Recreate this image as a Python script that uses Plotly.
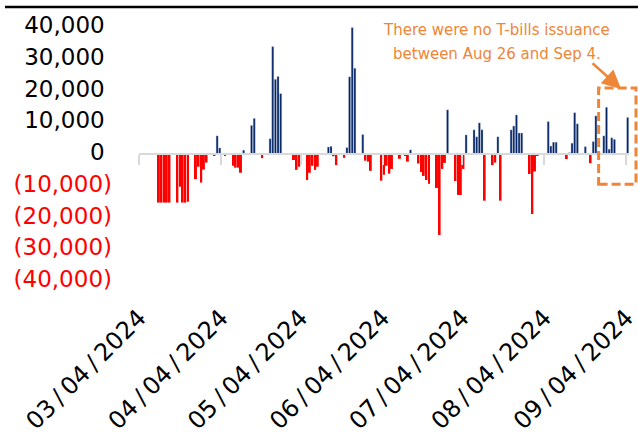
import datetime as dt
import plotly.graph_objects as go

# Daily net T-bill issuance (USD mn), business days Mar-Sep 2024
dates = [
    "2024-03-11", "2024-03-12", "2024-03-13", "2024-03-14", "2024-03-15",
    "2024-03-18", "2024-03-19", "2024-03-20", "2024-03-21", "2024-03-22",
    "2024-03-25", "2024-03-26", "2024-03-27", "2024-03-28", "2024-03-29",
    "2024-04-01", "2024-04-02", "2024-04-03", "2024-04-05",
    "2024-04-08", "2024-04-09", "2024-04-10", "2024-04-11", "2024-04-12",
    "2024-04-15", "2024-04-16", "2024-04-19",
    "2024-04-22", "2024-04-23", "2024-04-24", "2024-04-25", "2024-04-26",
    "2024-05-01", "2024-05-02", "2024-05-03",
    "2024-05-06", "2024-05-07", "2024-05-08", "2024-05-09", "2024-05-10",
    "2024-05-14", "2024-05-15", "2024-05-16", "2024-05-17",
    "2024-05-20", "2024-05-21", "2024-05-22", "2024-05-23", "2024-05-24",
    "2024-05-27", "2024-05-28", "2024-05-29", "2024-05-30",
    "2024-06-03", "2024-06-04", "2024-06-05", "2024-06-06", "2024-06-07",
    "2024-06-10", "2024-06-12", "2024-06-13", "2024-06-14",
    "2024-06-17", "2024-06-18", "2024-06-19", "2024-06-20", "2024-06-21",
    "2024-06-24", "2024-06-25", "2024-06-26", "2024-06-27", "2024-06-28",
    "2024-07-01", "2024-07-02", "2024-07-03", "2024-07-04", "2024-07-05",
    "2024-07-08", "2024-07-09", "2024-07-10", "2024-07-11", "2024-07-12",
    "2024-07-15", "2024-07-16", "2024-07-17", "2024-07-18",
    "2024-07-22", "2024-07-23", "2024-07-24", "2024-07-25", "2024-07-26",
    "2024-07-29", "2024-07-30", "2024-07-31", "2024-08-01",
    "2024-08-05", "2024-08-06", "2024-08-07", "2024-08-08",
    "2024-08-12", "2024-08-13", "2024-08-14", "2024-08-15", "2024-08-16",
    "2024-08-19", "2024-08-21", "2024-08-22", "2024-08-23",
    "2024-08-26", "2024-08-27", "2024-08-28", "2024-08-29", "2024-08-30",
    "2024-09-04",
]
net_issuance = [
    -15300, -15300, -15300, -15300, -15300,
    -15300, -10300, -15300, -15300, -15000,
    -7900, -4000, -9000, -4900, -2700,
    -500, 5700, 1900, -500,
    -3700, -4300, -4300, -5900, 1200,
    9000, 11200, -1300,
    4800, 33800, 23500, 24400, 19000,
    -1900, -5000, -4000,
    -8200, -5900, -3700, -5000, -4000,
    2200, 2400, -700, -3500,
    -1200, 2000, 24300, 39800, 27000,
    6100, -2100, -2400, -5300,
    -8400, -6500, -3700, -6200, -4700,
    -1500, -600, -2400, 1300,
    -3000, -5700, -6900, -8200, -9400,
    -10700, -25500, -4700, -2800, 13900,
    -8500, -12900, -12900, -4700, 6000,
    7600, 5400, 9800, 7600, -14700,
    -3500, -2700, 5400, -14700,
    7600, 8800, 12300, 6600, 6600,
    -6300, -18900, -5500, -600,
    10200, 2500, 3700, 3700,
    -1600, 400, 3400, 13000, 9500,
    2300, -2900, 3900, 12000,
    5700, 14700, 1500, 5100, 4600,
    11500,
]

month_ticks = ["2024-03-04", "2024-04-04", "2024-05-04", "2024-06-04",
               "2024-07-04", "2024-08-04", "2024-09-04"]
y_ticks = [40000, 30000, 20000, 10000, 0, -10000, -20000, -30000, -40000]

NAVY = "#002060"
RED = "#ff0000"
ORANGE = "#ef8536"
AXIS_GREY = "#d9d9d9"
FONT = "DejaVu Sans"


def y_label(v):
    if v < 0:
        return f"<span style='color:{RED}'>({abs(v):,})</span>"
    return f"{v:,}\u2008"


def x_label(d):
    # mm/dd/yyyy with a little air around the slashes
    return dt.date.fromisoformat(d).strftime("%m/%d/%Y").replace("/", "\u2009/\u2009")


pos_x = [d for d, v in zip(dates, net_issuance) if v >= 0]
pos_y = [v for v in net_issuance if v >= 0]
neg_x = [d for d, v in zip(dates, net_issuance) if v < 0]
neg_y = [v for v in net_issuance if v < 0]

DAY_MS = 86400000
bar_w = 0.74 * DAY_MS

fig = go.Figure()
fig.add_trace(go.Bar(
    x=pos_x, y=pos_y, xaxis="x2",
    xperiod=DAY_MS, xperiodalignment="middle",
    width=bar_w, marker=dict(color=NAVY, line=dict(color="rgba(170,185,215,0.7)", width=0.5)),
    showlegend=False,
))
fig.add_trace(go.Bar(
    x=neg_x, y=neg_y, xaxis="x",
    xperiod=DAY_MS, xperiodalignment="middle",
    width=bar_w, marker=dict(color=RED, line=dict(width=0)),
    showlegend=False,
))

fig.update_layout(
    width=638, height=437,
    margin=dict(l=139, r=9, t=27, b=156),
    paper_bgcolor="white", plot_bgcolor="white",
    barmode="overlay",
    font=dict(family=FONT, color="black"),
    xaxis=dict(
        type="date", range=["2024-03-04", "2024-09-05"], automargin=False,
        tickvals=month_ticks, ticktext=[x_label(d) for d in month_ticks],
        tickangle=-45, ticklabeloverflow="allow",
        tickfont=dict(size=24, family=FONT, color="black"),
        showgrid=False, showline=False, zeroline=False, ticks="",
        ticklabelstandoff=17,
    ),
    xaxis2=dict(
        type="date", overlaying="x", matches="x", anchor="free", position=0.5,
        side="bottom", tickvals=month_ticks, showticklabels=False, automargin=False,
        showgrid=False, zeroline=False,
        showline=True, linecolor=AXIS_GREY, linewidth=2,
        ticks="outside", ticklen=10, tickwidth=2, tickcolor=AXIS_GREY,
    ),
    yaxis=dict(
        range=[-40000, 40000], tickvals=y_ticks, automargin=False,
        ticktext=[y_label(v) for v in y_ticks],
        tickfont=dict(size=23, family=FONT, color="black"),
        showgrid=False, zeroline=False, showline=False, ticks="",
        ticklabelstandoff=26, ticklabelshift=-2,
    ),
    shapes=[
        # rule across the top of the chart
        dict(type="line", xref="paper", yref="paper",
             x0=-0.2735, x1=1.02, y0=1.0787, y1=1.0787,
             line=dict(color="black", width=2.5)),
        # dashed box around the late-August window
        dict(type="rect", xref="paper", yref="y",
             x0=0.938, x1=1.0143, y0=-9500, y1=20800,
             line=dict(color=ORANGE, width=3, dash="9px,4px")),
    ],
    annotations=[
        dict(xref="paper", yref="paper", x=0.73, y=0.988, showarrow=False,
             text="There were no T-bills issuance", xanchor="center", yanchor="middle",
             font=dict(size=15, family=FONT, color=ORANGE)),
        dict(xref="paper", yref="paper", x=0.73, y=0.894, showarrow=False,
             text="between Aug 26 and Sep 4.", xanchor="center", yanchor="middle",
             font=dict(size=15, family=FONT, color=ORANGE)),
        dict(xref="x", yref="y", x="2024-09-02", y=20500, text="",
             showarrow=True, ax=-30, ay=-27, arrowhead=2, arrowsize=1.5,
             arrowwidth=2.5, arrowcolor=ORANGE),
    ],
)

fig.write_html("out.html")
